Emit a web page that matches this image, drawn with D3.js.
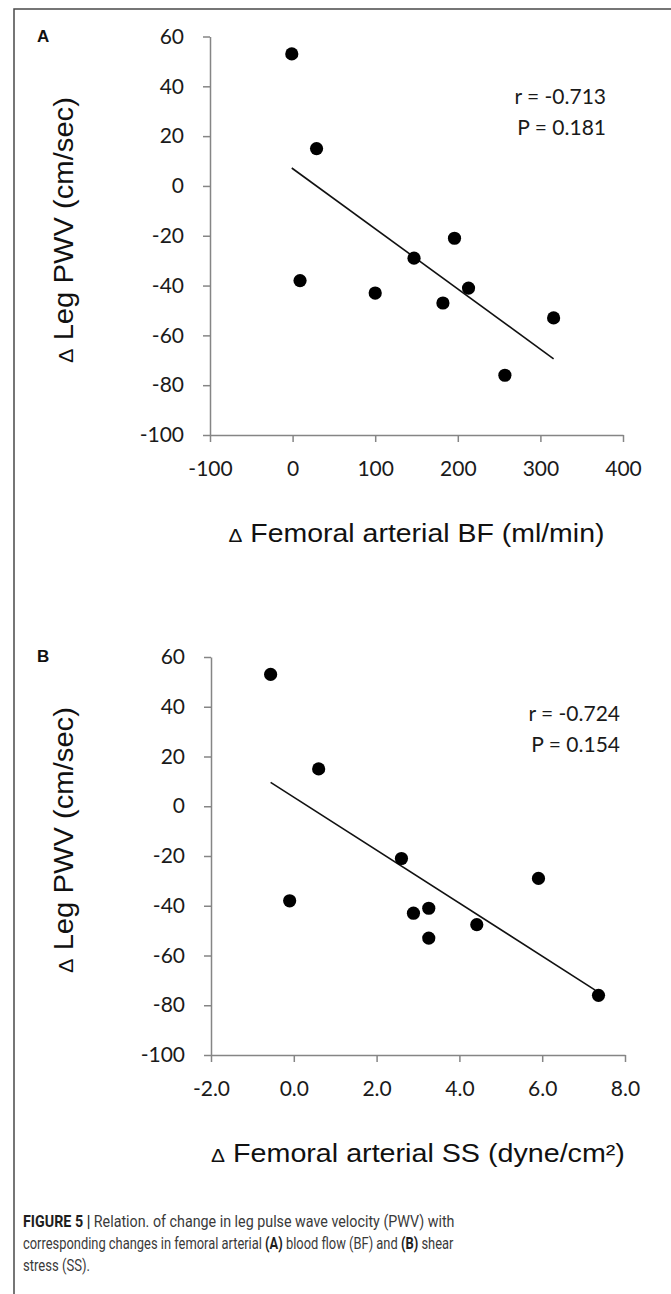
<!DOCTYPE html>
<html lang="en">
<head>
  <meta charset="UTF-8">
  <title>Figure 5 - Leg PWV vs femoral arterial BF and SS</title>
  <script src="https://d3js.org/d3.v7.min.js"></script>
  <style>
    body {
      margin: 0;
      background: #fff;
    }
    .tick text {
      font-family: Lato, "Open Sans", sans-serif;
      font-size: 21px;
      fill: #1a1a1a;
    }
    .axis path,
    .axis line {
      stroke: #858585;
      stroke-width: 1.5px;
    }
  </style>
</head>
<body>
  <div id="figure"></div>

  <script>
    // Panel A: change in femoral arterial BF (ml/min) vs change in leg PWV (cm/sec)
    const bfValues = [-1, 29, 9, 100, 147, 196, 182, 213, 257, 316];
    const pwvA = [53, 15, -38, -43, -29, -21, -47, -41, -76, -53];
    const trendA_x = [-1, 316];
    const trendA_y = [7.2, -69.4];

    // Panel B: change in femoral arterial SS (dyne/cm2) vs change in leg PWV
    const ssValues = [-0.56, 0.6, -0.1, 2.6, 2.89, 3.26, 3.26, 4.42, 5.91, 7.36];
    const pwvB = [53, 15, -38, -21, -43, -41, -53, -47.6, -29, -76];
    const trendB_x = [-0.56, 7.28];
    const trendB_y = [9.6, -73.9];

    // tick labels
    const pwvTicks = [60, 40, 20, 0, -20, -40, -60, -80, -100];
    const bfTicks = [-100, 0, 100, 200, 300, 400];
    const ssTicks = [-2, 0, 2, 4, 6, 8];

    const statsA = ["r = -0.713", "P = 0.181"];
    const statsB = ["r = -0.724", "P = 0.154"];

    const W = 671, H = 1294;

    const svg = d3.select("#figure")
      .append("svg")
      .attr("width", W)
      .attr("height", H);

    // figure frame (left + top only)
    svg.append("path")
      .attr("d", `M14,${H} L14,9 L${W},9`)
      .attr("fill", "none")
      .attr("stroke", "#4a4a4a")
      .attr("stroke-width", 1.5);

    // squeeze/stretch a text horizontally so it spans `width` px
    function fitText(g, text, width) {
      const w = text.node().getComputedTextLength();
      text.attr("transform", `scale(${width / w},1)`);
    }

    function drawPanel(p) {
      const x = d3.scaleLinear().domain(p.xDomain).range([p.left, p.right]);
      const y = d3.scaleLinear().domain([-100, 60]).range([p.bottom, p.top]);

      // panel letter
      svg.append("text")
        .attr("x", 37)
        .attr("y", p.top + 5)
        .attr("font-family", "Liberation Sans, Arial, sans-serif")
        .attr("font-weight", "bold")
        .attr("font-size", 17)
        .attr("fill", "#111")
        .text(p.letter);

      // axes
      svg.append("g")
        .attr("class", "axis")
        .attr("transform", `translate(${p.left},0)`)
        .call(d3.axisLeft(y).tickValues(pwvTicks).tickFormat(d => String(d))
          .tickSize(7).tickPadding(19).tickSizeOuter(0));

      svg.append("g")
        .attr("class", "axis")
        .attr("transform", `translate(0,${p.bottom})`)
        .call(d3.axisBottom(x).tickValues(p.xTicks).tickFormat(p.xFormat)
          .tickSize(7).tickPadding(19).tickSizeOuter(0));

      // trend line
      const trend = p.trendX.map((v, i) => [v, p.trendY[i]]);
      svg.append("path")
        .datum(trend)
        .attr("fill", "none")
        .attr("stroke", "#111")
        .attr("stroke-width", 1.6)
        .attr("d", d3.line().x(d => x(d[0])).y(d => y(d[1])));

      // points
      const pts = p.xs.map((v, i) => ({ x: v, y: p.ys[i] }));
      svg.selectAll(null)
        .data(pts)
        .enter()
        .append("circle")
        .attr("cx", d => x(d.x))
        .attr("cy", d => y(d.y))
        .attr("r", 6.6)
        .attr("fill", "#000");

      // r / P annotation
      svg.append("g")
        .selectAll("text")
        .data(p.stats)
        .enter()
        .append("text")
        .attr("x", p.statX)
        .attr("y", (d, i) => p.statY + i * 31)
        .attr("text-anchor", "end")
        .attr("font-family", "Lato, sans-serif")
        .attr("font-size", 21)
        .attr("fill", "#1a1a1a")
        .text(d => d);

      // y axis label
      const ylg = svg.append("g")
        .attr("transform", `translate(73,${p.yLabelY}) rotate(-90)`);
      const yl = ylg.append("text")
        .attr("text-anchor", "middle")
        .attr("font-family", "Liberation Sans, Arial, sans-serif")
        .attr("font-size", 27)
        .attr("fill", "#111");
      yl.append("tspan").attr("font-size", 20).text("\u0394");
      yl.append("tspan").text(" Leg PWV (cm/sec)");
      fitText(ylg, yl, 266);

      // x axis label
      const xlg = svg.append("g")
        .attr("transform", `translate(${(p.left + p.right) / 2},${p.bottom + 107})`);
      const xl = xlg.append("text")
        .attr("text-anchor", "middle")
        .attr("font-family", "Liberation Sans, Arial, sans-serif")
        .attr("font-size", 26)
        .attr("fill", "#111");
      xl.append("tspan").attr("font-size", 19).text("\u0394");
      xl.append("tspan").text(p.xLabel);
      fitText(xlg, xl, p.xLabelLen);
    }

    drawPanel({
      letter: "A", left: 210, right: 623, top: 36.5, bottom: 435,
      xDomain: [-100, 400], xTicks: bfTicks, xFormat: d => String(d),
      xs: bfValues, ys: pwvA, trendX: trendA_x, trendY: trendA_y,
      stats: statsA, statX: 606, statY: 104,
      yLabelY: 230, xLabel: " Femoral arterial BF (ml/min)", xLabelLen: 376
    });

    drawPanel({
      letter: "B", left: 211, right: 625, top: 657, bottom: 1055,
      xDomain: [-2, 8], xTicks: ssTicks, xFormat: d => d.toFixed(1),
      xs: ssValues, ys: pwvB, trendX: trendB_x, trendY: trendB_y,
      stats: statsB, statX: 620, statY: 721,
      yLabelY: 840, xLabel: " Femoral arterial SS (dyne/cm\u00b2)", xLabelLen: 414
    });

    // caption
    const caption = svg.append("g")
      .attr("font-family", "Roboto, 'Liberation Sans', sans-serif")
      .attr("font-size", 16)
      .attr("fill", "#3a3a3a");

    function captionLine(yPos, parts, width) {
      const g = caption.append("g").attr("transform", `translate(23,${yPos})`);
      const t = g.append("text");
      parts.forEach(([txt, bold]) => {
        const s = t.append("tspan").text(txt);
        if (bold) s.attr("font-weight", "bold").attr("fill", "#1e1e1e");
      });
      fitText(g, t, width);
    }

    captionLine(1227, [["FIGURE 5 | ", true], ["Relation. of change in leg pulse wave velocity (PWV) with", false]], 432);
    captionLine(1249, [["corresponding changes in femoral arterial ", false], ["(A)", true],
      [" blood flow (BF) and ", false], ["(B)", true], [" shear", false]], 431);
    captionLine(1271, [["stress (SS).", false]], 67);
  </script>
</body>
</html>
